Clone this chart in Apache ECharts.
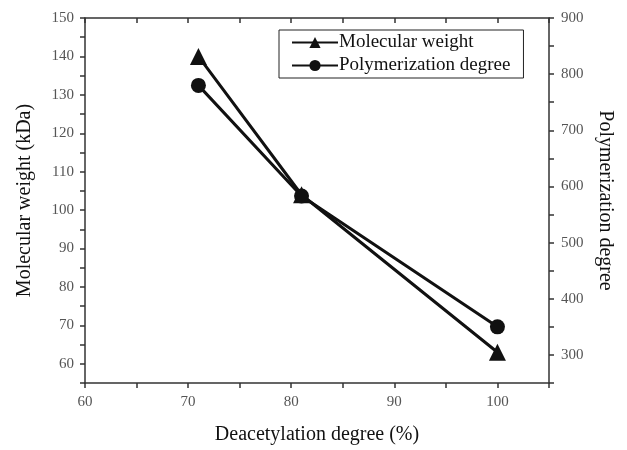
<!DOCTYPE html>
<html>
<head>
<meta charset="utf-8">
<script src="https://cdn.jsdelivr.net/npm/echarts@6/dist/echarts.min.js"></script>
<style>
  html, body { margin: 0; padding: 0; background: #fff; }
  #chart { width: 627px; height: 450px; }
</style>
</head>
<body>
<div id="chart"></div>
<script>
// values
const deacetylation = [71, 81, 100];
const molecularWeight = [140, 104, 63];
const polymerization = [780, 583, 350];

const serif = '"Liberation Serif", "DejaVu Serif", serif';
const axisColor = '#333';
const labelColor = '#555';

const pairs = (xs, ys) => xs.map((x, i) => [x, ys[i]]);
const every = (step) => (v) => (v % step === 0 ? String(v) : '');

const chart = echarts.init(document.getElementById('chart'));

const baseAxis = {
    axisLine: { show: true, lineStyle: { color: axisColor, width: 1.5 } },
    axisTick: { show: true, length: 5, lineStyle: { color: axisColor, width: 1.5 } },
    splitLine: { show: false },
    axisLabel: { color: labelColor, fontFamily: serif, fontSize: 15 },
    nameTextStyle: { color: '#111', fontFamily: serif, fontSize: 20 }
};

const option = {
    animation: false,
    backgroundColor: '#fff',
    grid: { left: 85, right: 78, top: 18, bottom: 64 },
    legend: {
        orient: 'vertical',
        left: 279,
        top: 30,
        padding: [3, 13, 3, 12],
        itemGap: 4,
        itemWidth: 46,
        itemHeight: 14,
        borderColor: '#222',
        borderWidth: 1,
        textStyle: { color: '#111', fontFamily: serif, fontSize: 19, padding: [0, 0, 0, -4] },
        data: ['Molecular weight', 'Polymerization degree']
    },
    xAxis: [
        {
            ...baseAxis,
            type: 'value',
            min: 60,
            max: 105,
            interval: 5,
            name: 'Deacetylation degree (%)',
            nameLocation: 'middle',
            nameGap: 42,
            axisLabel: { ...baseAxis.axisLabel, formatter: every(10), margin: 12 }
        },
        {
            ...baseAxis,
            type: 'value',
            position: 'top',
            min: 60,
            max: 105,
            interval: 5,
            axisTick: { ...baseAxis.axisTick, inside: true },
            axisLabel: { show: false }
        }
    ],
    yAxis: [
        {
            ...baseAxis,
            type: 'value',
            min: 55,
            max: 150,
            interval: 5,
            name: 'Molecular weight (kDa)',
            nameLocation: 'middle',
            nameGap: 50,
            axisLabel: { ...baseAxis.axisLabel, formatter: every(10), margin: 11 }
        },
        {
            ...baseAxis,
            type: 'value',
            position: 'right',
            min: 250,
            max: 900,
            interval: 50,
            name: 'Polymerization degree',
            nameLocation: 'middle',
            nameRotate: -90,
            nameGap: 46,
            axisLabel: { ...baseAxis.axisLabel, formatter: every(100), margin: 12 }
        }
    ],
    series: [
        {
            name: 'Molecular weight',
            type: 'line',
            yAxisIndex: 0,
            data: pairs(deacetylation, molecularWeight),
            symbol: 'triangle',
            symbolSize: 17,
            lineStyle: { color: '#111', width: 3 },
            itemStyle: { color: '#111' }
        },
        {
            name: 'Polymerization degree',
            type: 'line',
            yAxisIndex: 1,
            data: pairs(deacetylation, polymerization),
            symbol: 'circle',
            symbolSize: 15,
            lineStyle: { color: '#111', width: 3 },
            itemStyle: { color: '#111' }
        }
    ]
};

chart.setOption(option);
</script>
</body>
</html>
